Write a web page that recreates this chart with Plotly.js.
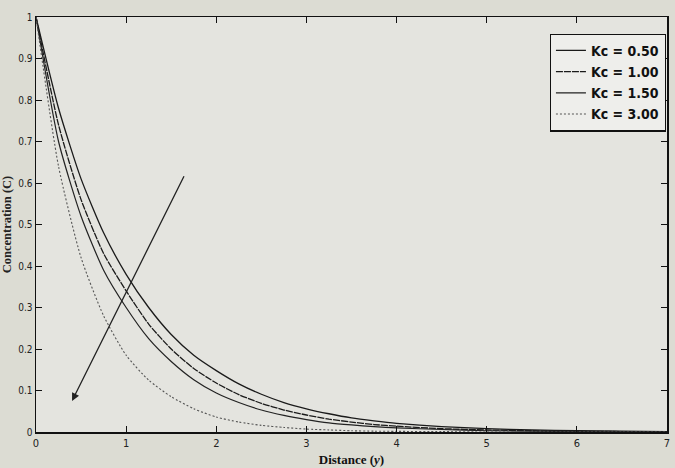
<!DOCTYPE html>
<html>
<head>
<meta charset="utf-8">
<script src="https://cdn.plot.ly/plotly-3.0.1.min.js"></script>
<style>html,body{margin:0;padding:0;background:#dcdcd3;}#chart{width:675px;height:468px;}</style>
</head>
<body>
<div id="chart"></div>
<script>
// Distance (y) sample points
const distance = [0, 0.25, 0.5, 0.75, 1, 1.25, 1.5, 1.75, 2, 2.25, 2.5, 2.75, 3, 3.25, 3.5, 3.75, 4, 4.5, 5, 5.5, 6, 6.5, 7];
// Concentration (C) for each Kc
const conc_kc050 = [1, 0.78, 0.61, 0.48, 0.38, 0.30, 0.235, 0.185, 0.148, 0.116, 0.091, 0.071, 0.056, 0.044, 0.034, 0.027, 0.021, 0.013, 0.008, 0.005, 0.003, 0.002, 0.001];
const conc_kc100 = [1, 0.74, 0.56, 0.43, 0.34, 0.26, 0.20, 0.153, 0.118, 0.090, 0.069, 0.053, 0.041, 0.031, 0.024, 0.018, 0.014, 0.008, 0.005, 0.003, 0.002, 0.001, 0.001];
const conc_kc150 = [1, 0.70, 0.52, 0.39, 0.30, 0.225, 0.170, 0.126, 0.094, 0.071, 0.053, 0.040, 0.030, 0.022, 0.017, 0.013, 0.010, 0.006, 0.003, 0.002, 0.001, 0.001, 0];
const conc_kc300 = [1, 0.64, 0.42, 0.28, 0.185, 0.125, 0.085, 0.056, 0.036, 0.024, 0.016, 0.011, 0.007, 0.005, 0.003, 0.002, 0.0015, 0.001, 0, 0, 0, 0, 0];
const seriesNames = ["Kc = 0.50", "Kc = 1.00", "Kc = 1.50", "Kc = 3.00"];
const xTicks = [0, 1, 2, 3, 4, 5, 6, 7];
const yTicks = [0, 0.1, 0.2, 0.3, 0.4, 0.5, 0.6, 0.7, 0.8, 0.9, 1];
const yTickText = ["0", "0.1", "0.2", "0.3", "0.4", "0.5", "0.6", "0.7", "0.8", "0.9", "1"];
// arrow annotation (direction of increasing Kc): tail and head in data units
const arrowTail = [1.65, 0.62];
const arrowHead = [0.4, 0.075];

const seriesData = [conc_kc050, conc_kc100, conc_kc150, conc_kc300];
const styles = [
  {color: '#1a1a1a', dash: 'solid', width: 1.3},
  {color: '#1a1a1a', dash: '7px,1px', width: 1.3},
  {color: '#222222', dash: 'solid', width: 1.2},
  {color: '#555555', dash: '2px,2px', width: 1.1}
];
const traces = seriesData.map((vals, i) => ({
  x: distance, y: vals, type: 'scatter', mode: 'lines', name: seriesNames[i],
  line: Object.assign({shape: 'spline', smoothing: 0.6}, styles[i])
}));

const fontNarrow = '"Liberation Sans Narrow", "Arial Narrow", "DejaVu Sans Condensed", "Liberation Sans", sans-serif';
const layout = {
  width: 675, height: 468,
  paper_bgcolor: '#dcdcd3', plot_bgcolor: '#e4e4df',
  margin: {l: 36, r: 8, t: 17, b: 36},
  showlegend: true,
  legend: {x: 0.998, y: 0.96, xanchor: 'right', yanchor: 'top', bgcolor: '#eeeeeb', bordercolor: '#111', borderwidth: 1.2,
           font: {family: fontNarrow, size: 14, color: '#111', weight: 'bold'}, tracegroupgap: 0, itemwidth: 30},
  xaxis: {range: [0, 7], tickvals: xTicks, ticks: 'inside', ticklen: 6, tickcolor: '#111', mirror: 'ticks',
          showline: true, linecolor: '#111', linewidth: 1.5, showgrid: false, zeroline: false,
          tickfont: {family: fontNarrow, size: 11, color: '#222'},
          title: {text: '<b>Distance (<i>y</i>)</b>', font: {family: '"Liberation Serif", "DejaVu Serif", serif', size: 13, color: '#111'}, standoff: 6}},
  yaxis: {range: [0, 1], tickvals: yTicks, ticktext: yTickText, ticks: 'inside', ticklen: 6, tickcolor: '#111', mirror: 'ticks',
          showline: true, linecolor: '#111', linewidth: 1.5, showgrid: false, zeroline: false,
          tickfont: {family: fontNarrow, size: 10, color: '#222'},
          title: {text: '<b>Concentration (C)</b>', font: {family: '"Liberation Serif", "DejaVu Serif", serif', size: 12.5, color: '#222'}, standoff: 4}},
  annotations: [{
    x: arrowHead[0], y: arrowHead[1], ax: arrowTail[0], ay: arrowTail[1], xref: 'x', yref: 'y', axref: 'x', ayref: 'y',
    showarrow: true, arrowhead: 2, arrowsize: 1.2, arrowwidth: 1.3, arrowcolor: '#222', text: ''
  }]
};
Plotly.newPlot('chart', traces, layout, {displayModeBar: false, staticPlot: true});
</script>
</body>
</html>
